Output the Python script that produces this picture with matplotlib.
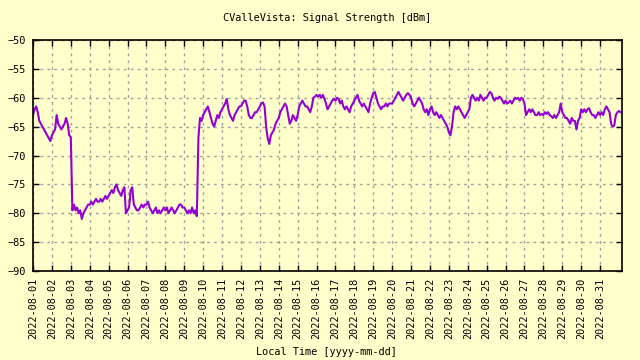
import matplotlib
matplotlib.use('Agg')
from matplotlib import pyplot as plt
import matplotlib.dates as mdates
import numpy as np
import pandas as pd

# signal strength [dBm], one value every 2 hours, one row per day
day01 = [-63, -62, -61.5, -62.5, -64, -64.5, -65, -65.5, -66, -66.5, -67, -67.5]
day02 = [-66.5, -66, -65.5, -63, -64.5, -65, -65.5, -65, -64.5, -63.5, -64.5, -66.5]
day03 = [-66.8, -79.5, -78.5, -79.5, -79, -80, -79.5, -81, -80, -79.5, -79, -78.5]
day04 = [-78.5, -78, -78.5, -78, -77.5, -78, -78, -77.5, -78, -77.5, -77, -77.5]
day05 = [-77, -76.5, -76, -76.5, -75.5, -75, -76, -76.5, -77, -76, -75.5, -80]
day06 = [-79.5, -79, -76, -75.5, -78.5, -79, -79.5, -79.5, -79, -78.5, -79, -78.5]
day07 = [-78.5, -78, -79, -79.5, -80, -79.5, -79, -80, -79.5, -80, -79.5, -79]
day08 = [-79.5, -79, -80, -79.5, -79, -79.5, -80, -79.5, -79, -78.5, -78.5, -79]
day09 = [-79, -79.5, -80, -79.5, -80, -79, -80, -79.5, -80.5, -67, -63.5, -64]
day10 = [-63, -62.5, -62, -61.5, -62.5, -63.5, -64.5, -65, -64, -63, -63.5, -62.5]
day11 = [-62, -61.5, -61, -60.2, -62, -63, -63.5, -64, -63, -62.5, -62, -61.5]
day12 = [-61.5, -61, -60.5, -60.5, -61.5, -63, -63.5, -63.5, -63, -62.5, -62.5, -62]
day13 = [-61.5, -61, -60.8, -61.5, -65, -67, -68, -66.5, -66, -65.5, -64.5, -64]
day14 = [-63.5, -62.5, -62, -61.5, -61, -61.5, -63, -64.5, -64, -63, -63.5, -64]
day15 = [-63, -61.5, -61, -60.5, -61, -61.5, -61.5, -62, -62.5, -61.5, -60, -59.8]
day16 = [-59.5, -59.8, -59.5, -60, -59.5, -60.2, -61, -62, -61.5, -61, -60.5, -60.2]
day17 = [-60.5, -60, -60.2, -61, -60.5, -61.5, -62, -61.5, -62, -62.5, -61.5, -61]
day18 = [-60.5, -60, -59.5, -60.5, -61, -61.5, -61, -61.5, -62, -62.5, -61, -60]
day19 = [-59.2, -59, -60, -61, -61.5, -62, -61.5, -61.5, -61, -61.5, -61, -61]
day20 = [-61, -60.5, -60, -59.5, -59, -59.5, -60, -60.5, -60, -59.5, -59.2, -59.5]
day21 = [-60, -61, -61.5, -61, -60.5, -60, -60.5, -61, -62, -62.5, -62, -63]
day22 = [-62, -61.5, -62.5, -63, -62.5, -63, -63.5, -63, -63.5, -64, -64.5, -65]
day23 = [-66, -66.5, -65, -62.5, -61.5, -62, -61.5, -62, -62.5, -63, -63.5, -63]
day24 = [-62.5, -62, -60, -59.5, -60, -60.5, -60, -60.5, -59.5, -60, -60.5, -60]
day25 = [-60, -59.5, -59, -59.2, -60, -60.5, -60, -60.2, -59.8, -60, -60.5, -61]
day26 = [-60.5, -61, -60.8, -60.5, -61, -60.5, -60, -60.2, -60, -60.5, -60, -60.2]
day27 = [-61, -63, -62.5, -62, -62.5, -62, -62.5, -63, -63, -62.5, -63, -62.8]
day28 = [-63, -62.5, -62.8, -62.5, -63, -63.2, -63.5, -63, -63.5, -63, -62.5, -61]
day29 = [-62.5, -63, -63.5, -63.5, -64, -64.5, -63.5, -64, -64, -65.5, -64, -63.5]
day30 = [-62, -62.5, -62, -62.5, -62, -61.8, -62.5, -63, -63, -63.5, -63, -62.5]
day31 = [-63, -62.5, -63, -62, -61.5, -62, -62.5, -64.5, -65, -64.8, -63, -62.5]
day32 = [-62.3, -62.5]

signal = (day01 + day02 + day03 + day04 + day05 + day06 + day07 + day08 + day09 + day10
          + day11 + day12 + day13 + day14 + day15 + day16 + day17 + day18 + day19 + day20
          + day21 + day22 + day23 + day24 + day25 + day26 + day27 + day28 + day29 + day30
          + day31 + day32)
times = pd.date_range('2022-08-01 00:00', periods=len(signal), freq='2h')
day_ticks = pd.date_range('2022-08-01', '2022-08-31', freq='D')

bg = '#ffffcc'
mono = 'DejaVu Sans Mono'
fs = 7.4

fig = plt.figure(figsize=(6.4, 3.6), dpi=100, facecolor=bg)
ax = fig.add_axes([33/640, 1-271/360, 589/640, 231/360], facecolor=bg)

ax.plot(times, signal, color='#9400d3', lw=1.5)

ax.set_xlim(pd.Timestamp('2022-08-01 00:00'), pd.Timestamp('2022-09-01 03:50'))
ax.set_ylim(-90, -50)
ax.set_yticks(np.arange(-90, -49, 5))
ax.set_xticks(day_ticks)
ax.xaxis.set_major_formatter(mdates.DateFormatter('%Y-%m-%d'))

ax.tick_params(direction='in', length=4, width=1, top=True, right=True, labelsize=fs)
ax.tick_params(axis='x', pad=5)
ax.tick_params(axis='y', pad=5)
for lab in ax.get_xticklabels():
    lab.set_rotation(90)
    lab.set_family(mono)
for lab in ax.get_yticklabels():
    lab.set_family(mono)

ax.grid(True, color='#a0a0a0', linestyle=(0, (2, 3)), linewidth=1)
for s in ax.spines.values():
    s.set_linewidth(1.2)

fig.text(327/640, 1-18/360, 'CValleVista: Signal Strength [dBm]', family=mono,
         fontsize=fs, ha='center', va='center')
fig.text(326/640, 1-352/360, 'Local Time [yyyy-mm-dd]', family=mono,
         fontsize=fs, ha='center', va='center')

plt.savefig('out.png', dpi=100, facecolor=bg)
